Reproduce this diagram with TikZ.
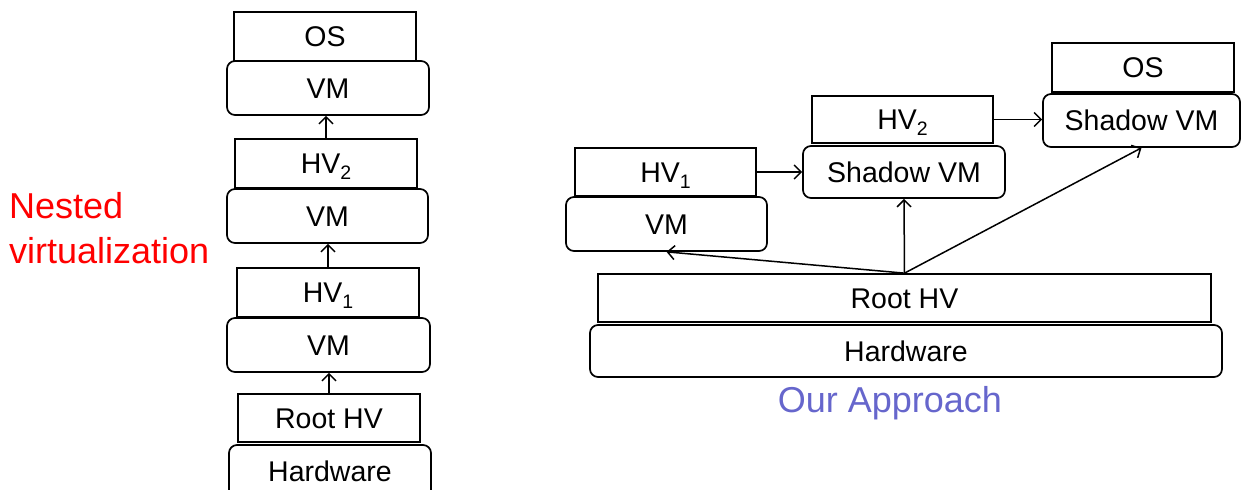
\documentclass[tikz,border=0pt]{standalone}
\usepackage{fontspec}
\setmainfont{Liberation Sans}
\usetikzlibrary{arrows.meta}
\definecolor{appblue}{RGB}{102,102,204}
\newcommand{\hvsub}[1]{\raisebox{-6pt}{\fontsize{19.5}{20}\selectfont #1}}
\begin{document}
\begin{tikzpicture}[x=1pt,y=-1pt,
  lbl/.style={font=\fontsize{28.5}{30}\selectfont, text height=20pt, text depth=0pt, inner sep=0pt},
  sqbox/.style={lbl, draw, line width=1.7pt, fill=white},
  rdbox/.style={sqbox, rounded corners=8pt},
  arr/.style={line width=1.5pt, -{Straight Barb[length=7pt,width=14pt]}}]
\useasboundingbox (0,0) rectangle (1243,490);
\clip (0,0) rectangle (1243,490);
% left stack
\node[rdbox, minimum width=202pt, minimum height=54pt] (vm1) at (328,88) {VM};
\node[sqbox, minimum width=182pt, minimum height=49pt] (osL) at (325,36.5) {OS};
\node[rdbox, minimum width=201pt, minimum height=54pt] (vm2) at (327.5,216) {VM};
\node[sqbox, minimum width=182pt, minimum height=49pt] (hv2) at (326,163.5) {HV\hvsub{2}};
\node[rdbox, minimum width=203pt, minimum height=54pt] (vm3) at (328.5,345) {VM};
\node[sqbox, minimum width=182pt, minimum height=49pt] (hv1) at (328,292.5) {HV\hvsub{1}};
\node[rdbox, minimum width=202pt, minimum height=53pt] (hwL) at (330,471.5) {Hardware};
\node[sqbox, minimum width=182pt, minimum height=48pt] (rootL) at (329,418) {Root HV};
\draw[arr] (hv2.north) -- (hv2.north |- vm1.south);
\draw[arr] (hv1.north) -- (hv1.north |- vm2.south);
\draw[arr] (rootL.north) -- (rootL.north |- vm3.south);
% label left
\node[anchor=base west, inner sep=0pt, text=red, font=\fontsize{36}{40}\selectfont] (nest1) at (9,218) {Nested};
\node[anchor=base west, inner sep=0pt, text=red, font=\fontsize{36}{40}\selectfont] (nest2) at (9,263) {virtualization};
% right
\node[rdbox, minimum width=201pt, minimum height=54pt] (vmR) at (666.5,224) {VM};
\node[sqbox, minimum width=181pt, minimum height=48pt] (hv1R) at (665.5,172) {HV\hvsub{1}};
\node[rdbox, minimum width=202pt, minimum height=52pt] (shmid) at (904,172) {Shadow VM};
\node[sqbox, minimum width=181pt, minimum height=47pt] (hv2R) at (902.5,119.5) {HV\hvsub{2}};
\node[rdbox, minimum width=197pt, minimum height=53pt] (shR) at (1141.5,120.5) {Shadow VM};
\node[sqbox, minimum width=182pt, minimum height=49pt] (osR) at (1143,67.5) {OS};
\node[rdbox, minimum width=632pt, minimum height=52pt] (hwR) at (906,351) {Hardware};
\node[sqbox, minimum width=613pt, minimum height=48pt] (rootR) at (904.5,298) {Root HV};
\draw[arr] (hv1R.east) -- (hv1R.east -| shmid.west);
\draw[arr] (hv2R.east) -- (hv2R.east -| shR.west);
\draw[arr] (rootR.north) -- (vmR.south);
\draw[arr] (rootR.north) -- (shmid.south);
\draw[arr] (rootR.north) -- (shR.south);
\node[anchor=base, inner sep=0pt, text=appblue, font=\fontsize{36}{40}\selectfont] (appr) at (890,412) {Our Approach};
\end{tikzpicture}
\end{document}
